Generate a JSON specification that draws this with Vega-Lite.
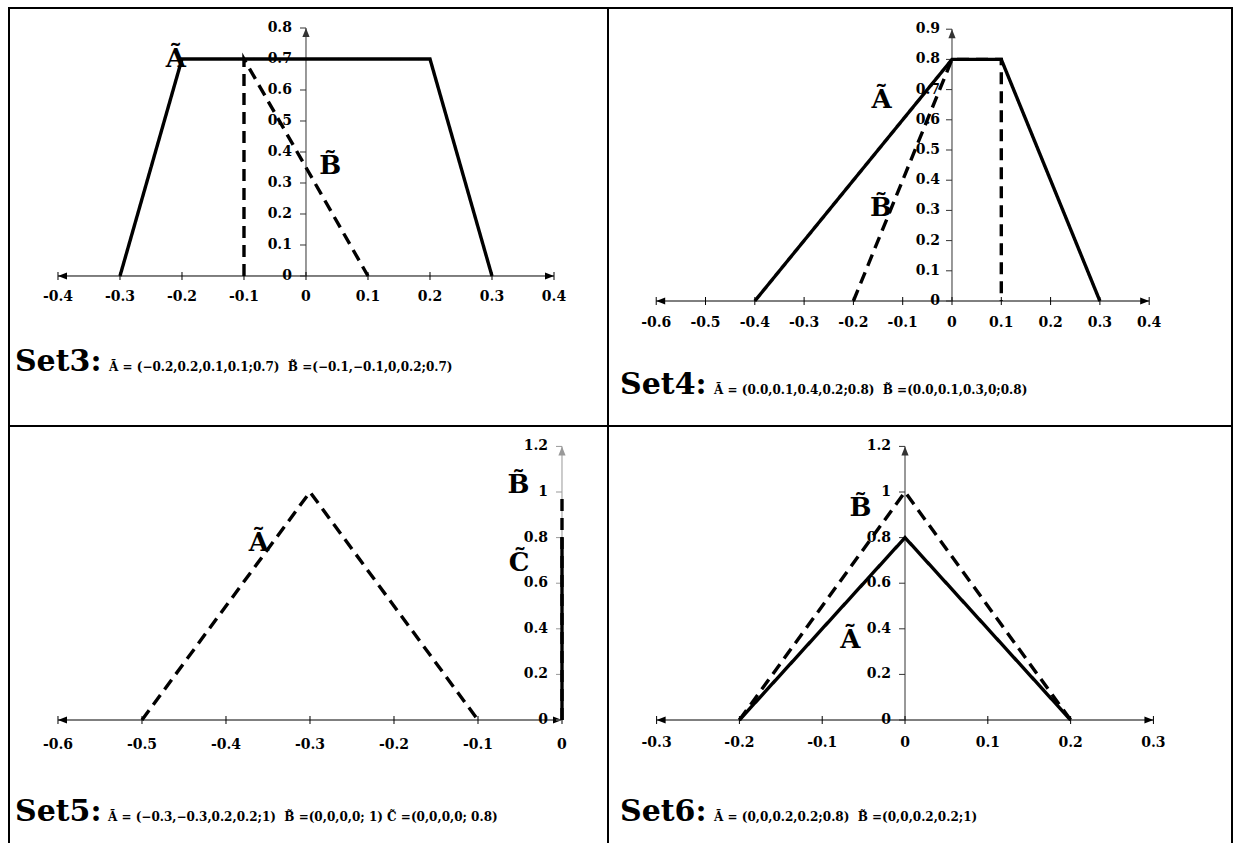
{
  "$schema": "https://vega.github.io/schema/vega-lite/v6.json",
  "background": "white",
  "padding": {"left": 8, "top": 7, "right": 0, "bottom": 0},
  "columns": 2,
  "spacing": 0,
  "bounds": "flush",
  "resolve": {"scale": {"x": "independent", "y": "independent", "shape": "independent", "strokeDash": "independent"}},
  "datasets": {
    "set3": [
      {"g": "ax", "axis": "x", "x": -0.4, "y": 0, "x2": 0.4, "y2": 0},
      {"g": "ax", "axis": "y", "x": 0, "y": 0, "x2": 0, "y2": 0.8},
      {"g": "ar", "axis": "x", "dir": "left", "x": -0.4, "y": 0},
      {"g": "ar", "axis": "x", "dir": "right", "x": 0.4, "y": 0},
      {"g": "ar", "axis": "y", "dir": "up", "x": 0, "y": 0.8},
      {"g": "xt", "x": -0.4, "y": 0, "t": "-0.4"},
      {"g": "xt", "x": -0.3, "y": 0, "t": "-0.3"},
      {"g": "xt", "x": -0.2, "y": 0, "t": "-0.2"},
      {"g": "xt", "x": -0.1, "y": 0, "t": "-0.1"},
      {"g": "xt", "x": 0, "y": 0, "t": "0"},
      {"g": "xt", "x": 0.1, "y": 0, "t": "0.1"},
      {"g": "xt", "x": 0.2, "y": 0, "t": "0.2"},
      {"g": "xt", "x": 0.3, "y": 0, "t": "0.3"},
      {"g": "xt", "x": 0.4, "y": 0, "t": "0.4"},
      {"g": "yt", "x": 0, "y": 0, "t": "0"},
      {"g": "yt", "x": 0, "y": 0.1, "t": "0.1"},
      {"g": "yt", "x": 0, "y": 0.2, "t": "0.2"},
      {"g": "yt", "x": 0, "y": 0.3, "t": "0.3"},
      {"g": "yt", "x": 0, "y": 0.4, "t": "0.4"},
      {"g": "yt", "x": 0, "y": 0.5, "t": "0.5"},
      {"g": "yt", "x": 0, "y": 0.6, "t": "0.6"},
      {"g": "yt", "x": 0, "y": 0.7, "t": "0.7"},
      {"g": "yt", "x": 0, "y": 0.8, "t": "0.8"},
      {"g": "s", "name": "A", "style": "solid", "ord": 1, "x": -0.3, "y": 0},
      {"g": "s", "name": "A", "style": "solid", "ord": 2, "x": -0.2, "y": 0.7},
      {"g": "s", "name": "A", "style": "solid", "ord": 3, "x": 0.2, "y": 0.7},
      {"g": "s", "name": "A", "style": "solid", "ord": 4, "x": 0.3, "y": 0},
      {"g": "s", "name": "B", "style": "dashed", "ord": 1, "x": -0.1, "y": 0},
      {"g": "s", "name": "B", "style": "dashed", "ord": 2, "x": -0.1, "y": 0.7},
      {"g": "s", "name": "B", "style": "dashed", "ord": 3, "x": 0.1, "y": 0},
      {"g": "nm", "t": "Ã", "x": -0.21, "y": 0.674},
      {"g": "nm", "t": "B\u0303", "x": 0.039, "y": 0.329},
      {"g": "cap", "t": "Set3:", "x": -0.4694, "y": -0.3065},
      {"g": "fm", "t": "Ã = (−0.2,0.2,0.1,0.1;0.7)\u00a0\u00a0B\u0303 =(−0.1,−0.1,0,0.2;0.7)", "x": -0.3177, "y": -0.3065}
    ],
    "set4": [
      {"g": "ax", "axis": "x", "x": -0.6, "y": 0, "x2": 0.4, "y2": 0},
      {"g": "ax", "axis": "y", "x": 0, "y": 0, "x2": 0, "y2": 0.9},
      {"g": "ar", "axis": "x", "dir": "left", "x": -0.6, "y": 0},
      {"g": "ar", "axis": "x", "dir": "right", "x": 0.4, "y": 0},
      {"g": "ar", "axis": "y", "dir": "up", "x": 0, "y": 0.9},
      {"g": "xt", "x": -0.6, "y": 0, "t": "-0.6"},
      {"g": "xt", "x": -0.5, "y": 0, "t": "-0.5"},
      {"g": "xt", "x": -0.4, "y": 0, "t": "-0.4"},
      {"g": "xt", "x": -0.3, "y": 0, "t": "-0.3"},
      {"g": "xt", "x": -0.2, "y": 0, "t": "-0.2"},
      {"g": "xt", "x": -0.1, "y": 0, "t": "-0.1"},
      {"g": "xt", "x": 0, "y": 0, "t": "0"},
      {"g": "xt", "x": 0.1, "y": 0, "t": "0.1"},
      {"g": "xt", "x": 0.2, "y": 0, "t": "0.2"},
      {"g": "xt", "x": 0.3, "y": 0, "t": "0.3"},
      {"g": "xt", "x": 0.4, "y": 0, "t": "0.4"},
      {"g": "yt", "x": 0, "y": 0, "t": "0"},
      {"g": "yt", "x": 0, "y": 0.1, "t": "0.1"},
      {"g": "yt", "x": 0, "y": 0.2, "t": "0.2"},
      {"g": "yt", "x": 0, "y": 0.3, "t": "0.3"},
      {"g": "yt", "x": 0, "y": 0.4, "t": "0.4"},
      {"g": "yt", "x": 0, "y": 0.5, "t": "0.5"},
      {"g": "yt", "x": 0, "y": 0.6, "t": "0.6"},
      {"g": "yt", "x": 0, "y": 0.7, "t": "0.7"},
      {"g": "yt", "x": 0, "y": 0.8, "t": "0.8"},
      {"g": "yt", "x": 0, "y": 0.9, "t": "0.9"},
      {"g": "s", "name": "A", "style": "solid", "ord": 1, "x": -0.4, "y": 0},
      {"g": "s", "name": "A", "style": "solid", "ord": 2, "x": 0, "y": 0.8},
      {"g": "s", "name": "A", "style": "solid", "ord": 3, "x": 0.1, "y": 0.8},
      {"g": "s", "name": "A", "style": "solid", "ord": 4, "x": 0.3, "y": 0},
      {"g": "s", "name": "B", "style": "dashed", "ord": 1, "x": -0.2, "y": 0},
      {"g": "s", "name": "B", "style": "dashed", "ord": 2, "x": 0, "y": 0.8},
      {"g": "s", "name": "B", "style": "dashed", "ord": 3, "x": 0.1, "y": 0.8},
      {"g": "s", "name": "B", "style": "dashed", "ord": 4, "x": 0.1, "y": 0},
      {"g": "nm", "t": "Ã", "x": -0.143, "y": 0.64},
      {"g": "nm", "t": "B\u0303", "x": -0.144, "y": 0.2815},
      {"g": "cap", "t": "Set4:", "x": -0.6734, "y": -0.308},
      {"g": "fm", "t": "Ã = (0.0,0.1,0.4,0.2;0.8)\u00a0\u00a0B\u0303 =(0.0,0.1,0.3,0;0.8)", "x": -0.4828, "y": -0.308}
    ],
    "set5": [
      {"g": "ax", "axis": "x", "x": -0.6, "y": 0, "x2": 0, "y2": 0},
      {"g": "ax", "axis": "y", "x": 0, "y": 0, "x2": 0, "y2": 1.2},
      {"g": "ar", "axis": "x", "dir": "left", "x": -0.6, "y": 0},
      {"g": "ar", "axis": "x", "dir": "right", "x": 0, "y": 0},
      {"g": "ar", "axis": "y", "dir": "up", "x": 0, "y": 1.2},
      {"g": "xt", "x": -0.6, "y": 0, "t": "-0.6"},
      {"g": "xt", "x": -0.5, "y": 0, "t": "-0.5"},
      {"g": "xt", "x": -0.4, "y": 0, "t": "-0.4"},
      {"g": "xt", "x": -0.3, "y": 0, "t": "-0.3"},
      {"g": "xt", "x": -0.2, "y": 0, "t": "-0.2"},
      {"g": "xt", "x": -0.1, "y": 0, "t": "-0.1"},
      {"g": "xt", "x": 0, "y": 0, "t": "0"},
      {"g": "yt", "x": 0, "y": 0, "t": "0"},
      {"g": "yt", "x": 0, "y": 0.2, "t": "0.2"},
      {"g": "yt", "x": 0, "y": 0.4, "t": "0.4"},
      {"g": "yt", "x": 0, "y": 0.6, "t": "0.6"},
      {"g": "yt", "x": 0, "y": 0.8, "t": "0.8"},
      {"g": "yt", "x": 0, "y": 1, "t": "1"},
      {"g": "yt", "x": 0, "y": 1.2, "t": "1.2"},
      {"g": "s", "name": "A", "style": "dashed", "ord": 1, "x": -0.5, "y": 0},
      {"g": "s", "name": "A", "style": "dashed", "ord": 2, "x": -0.3, "y": 1},
      {"g": "s", "name": "A", "style": "dashed", "ord": 3, "x": -0.1, "y": 0},
      {"g": "s", "name": "B", "style": "dashed", "ord": 1, "x": 0, "y": 0},
      {"g": "s", "name": "B", "style": "dashed", "ord": 2, "x": 0, "y": 1},
      {"g": "s", "name": "C", "style": "solid", "ord": 1, "x": 0, "y": 0},
      {"g": "s", "name": "C", "style": "solid", "ord": 2, "x": 0, "y": 0.8},
      {"g": "nm", "t": "Ã", "x": -0.361, "y": 0.741},
      {"g": "nm", "t": "B\u0303", "x": -0.0518, "y": 0.997},
      {"g": "nm", "t": "C\u0303", "x": -0.0512, "y": 0.6535},
      {"g": "cap", "t": "Set5:", "x": -0.6512, "y": -0.443},
      {"g": "fm", "t": "Ã = (−0.3,−0.3,0.2,0.2;1)\u00a0\u00a0B\u0303 =(0,0,0,0; 1) C\u0303 =(0,0,0,0; 0.8)", "x": -0.5405, "y": -0.443}
    ],
    "set6": [
      {"g": "ax", "axis": "x", "x": -0.3, "y": 0, "x2": 0.3, "y2": 0},
      {"g": "ax", "axis": "y", "x": 0, "y": 0, "x2": 0, "y2": 1.2},
      {"g": "ar", "axis": "x", "dir": "left", "x": -0.3, "y": 0},
      {"g": "ar", "axis": "x", "dir": "right", "x": 0.3, "y": 0},
      {"g": "ar", "axis": "y", "dir": "up", "x": 0, "y": 1.2},
      {"g": "xt", "x": -0.3, "y": 0, "t": "-0.3"},
      {"g": "xt", "x": -0.2, "y": 0, "t": "-0.2"},
      {"g": "xt", "x": -0.1, "y": 0, "t": "-0.1"},
      {"g": "xt", "x": 0, "y": 0, "t": "0"},
      {"g": "xt", "x": 0.1, "y": 0, "t": "0.1"},
      {"g": "xt", "x": 0.2, "y": 0, "t": "0.2"},
      {"g": "xt", "x": 0.3, "y": 0, "t": "0.3"},
      {"g": "yt", "x": 0, "y": 0, "t": "0"},
      {"g": "yt", "x": 0, "y": 0.2, "t": "0.2"},
      {"g": "yt", "x": 0, "y": 0.4, "t": "0.4"},
      {"g": "yt", "x": 0, "y": 0.6, "t": "0.6"},
      {"g": "yt", "x": 0, "y": 0.8, "t": "0.8"},
      {"g": "yt", "x": 0, "y": 1, "t": "1"},
      {"g": "yt", "x": 0, "y": 1.2, "t": "1.2"},
      {"g": "s", "name": "A", "style": "solid", "ord": 1, "x": -0.2, "y": 0},
      {"g": "s", "name": "A", "style": "solid", "ord": 2, "x": 0, "y": 0.8},
      {"g": "s", "name": "A", "style": "solid", "ord": 3, "x": 0.2, "y": 0},
      {"g": "s", "name": "B", "style": "dashed", "ord": 1, "x": -0.2, "y": 0},
      {"g": "s", "name": "B", "style": "dashed", "ord": 2, "x": 0, "y": 1},
      {"g": "s", "name": "B", "style": "dashed", "ord": 3, "x": 0.2, "y": 0},
      {"g": "nm", "t": "B\u0303", "x": -0.0537, "y": 0.895},
      {"g": "nm", "t": "Ã", "x": -0.0659, "y": 0.317},
      {"g": "cap", "t": "Set6:", "x": -0.3442, "y": -0.443},
      {"g": "fm", "t": "Ã = (0,0,0.2,0.2;0.8)\u00a0\u00a0B\u0303 =(0,0,0.2,0.2;1)", "x": -0.2307, "y": -0.443}
    ]
  },
  "concat": [
    {
      "width": 599, "height": 418,
      "data": {"name": "set3"},
      "encoding": {
        "x": {"field": "x", "type": "quantitative", "scale": {"domain": [-0.479, 0.4871], "nice": false, "zero": false}, "axis": null},
        "y": {"field": "y", "type": "quantitative", "scale": {"domain": [-0.4839, 0.8645], "nice": false, "zero": false}, "axis": null}
      },
      "layer": [
        {"transform": [{"filter": "datum.g === 'ax'"}], "mark": {"type": "rule", "strokeWidth": 1}, "encoding": {"x2": {"field": "x2"}, "y2": {"field": "y2"}, "color": {"condition": {"test": "datum.axis === 'y'", "value": "#333333"}, "value": "black"}}},
        {"transform": [{"filter": "datum.g === 'ar'"}], "mark": {"type": "point", "filled": true, "size": 81, "opacity": 1}, "encoding": {"shape": {"field": "dir", "scale": {"domain": ["left", "right", "up"], "range": ["M0,0L2,-0.8L2,0.8Z", "M0,0L-2,-0.8L-2,0.8Z", "M0,0L-0.8,2L0.8,2Z"]}, "legend": null}, "color": {"condition": {"test": "datum.axis === 'y'", "value": "#333333"}, "value": "black"}}},
        {"transform": [{"filter": "datum.g === 'xt'"}], "mark": {"type": "tick", "orient": "vertical", "size": 8, "thickness": 1, "color": "black", "opacity": 1}},
        {"transform": [{"filter": "datum.g === 'yt'"}], "mark": {"type": "tick", "orient": "horizontal", "size": 6, "thickness": 1, "xOffset": -3, "color": "#333333", "opacity": 1}},
        {"transform": [{"filter": "datum.g === 'xt'"}], "mark": {"type": "text", "dy": 21, "fontSize": 14, "baseline": "middle"}, "encoding": {"text": {"field": "t"}}},
        {"transform": [{"filter": "datum.g === 'yt'"}], "mark": {"type": "text", "align": "right", "dx": -14, "fontSize": 14, "baseline": "middle"}, "encoding": {"text": {"field": "t"}}},
        {"transform": [{"filter": "datum.g === 's'"}], "mark": {"type": "line", "strokeWidth": 3.4, "color": "black"}, "encoding": {"detail": {"field": "name"}, "order": {"field": "ord", "type": "quantitative"}, "strokeDash": {"field": "style", "scale": {"domain": ["solid", "dashed"], "range": [[1, 0], [12, 7]]}, "legend": null}}},
        {"transform": [{"filter": "datum.g === 'nm'"}], "mark": {"type": "text", "fontSize": 26, "baseline": "alphabetic"}, "encoding": {"text": {"field": "t"}}},
        {"transform": [{"filter": "datum.g === 'cap'"}], "mark": {"type": "text", "fontSize": 30, "align": "left", "baseline": "alphabetic"}, "encoding": {"text": {"field": "t"}}},
        {"transform": [{"filter": "datum.g === 'fm'"}], "mark": {"type": "text", "fontSize": 12, "align": "left", "baseline": "alphabetic"}, "encoding": {"text": {"field": "t"}}}
      ]
    },
    {
      "width": 624, "height": 418,
      "data": {"name": "set4"},
      "encoding": {
        "x": {"field": "x", "type": "quantitative", "scale": {"domain": [-0.6978, 0.568], "nice": false, "zero": false}, "axis": null},
        "y": {"field": "y", "type": "quantitative", "scale": {"domain": [-0.4139, 0.9702], "nice": false, "zero": false}, "axis": null}
      },
      "layer": [
        {"transform": [{"filter": "datum.g === 'ax'"}], "mark": {"type": "rule", "strokeWidth": 1}, "encoding": {"x2": {"field": "x2"}, "y2": {"field": "y2"}, "color": {"condition": {"test": "datum.axis === 'y'", "value": "#333333"}, "value": "black"}}},
        {"transform": [{"filter": "datum.g === 'ar'"}], "mark": {"type": "point", "filled": true, "size": 81, "opacity": 1}, "encoding": {"shape": {"field": "dir", "scale": {"domain": ["left", "right", "up"], "range": ["M0,0L2,-0.8L2,0.8Z", "M0,0L-2,-0.8L-2,0.8Z", "M0,0L-0.8,2L0.8,2Z"]}, "legend": null}, "color": {"condition": {"test": "datum.axis === 'y'", "value": "#333333"}, "value": "black"}}},
        {"transform": [{"filter": "datum.g === 'xt'"}], "mark": {"type": "tick", "orient": "vertical", "size": 8, "thickness": 1, "color": "black", "opacity": 1}},
        {"transform": [{"filter": "datum.g === 'yt'"}], "mark": {"type": "tick", "orient": "horizontal", "size": 6, "thickness": 1, "xOffset": -3, "color": "#333333", "opacity": 1}},
        {"transform": [{"filter": "datum.g === 'xt'"}], "mark": {"type": "text", "dy": 22, "fontSize": 14, "baseline": "middle"}, "encoding": {"text": {"field": "t"}}},
        {"transform": [{"filter": "datum.g === 'yt'"}], "mark": {"type": "text", "align": "right", "dx": -12, "fontSize": 14, "baseline": "middle"}, "encoding": {"text": {"field": "t"}}},
        {"transform": [{"filter": "datum.g === 's'"}], "mark": {"type": "line", "strokeWidth": 3.4, "color": "black"}, "encoding": {"detail": {"field": "name"}, "order": {"field": "ord", "type": "quantitative"}, "strokeDash": {"field": "style", "scale": {"domain": ["solid", "dashed"], "range": [[1, 0], [12, 7]]}, "legend": null}}},
        {"transform": [{"filter": "datum.g === 'nm'"}], "mark": {"type": "text", "fontSize": 26, "baseline": "alphabetic"}, "encoding": {"text": {"field": "t"}}},
        {"transform": [{"filter": "datum.g === 'cap'"}], "mark": {"type": "text", "fontSize": 30, "align": "left", "baseline": "alphabetic"}, "encoding": {"text": {"field": "t"}}},
        {"transform": [{"filter": "datum.g === 'fm'"}], "mark": {"type": "text", "fontSize": 12, "align": "left", "baseline": "alphabetic"}, "encoding": {"text": {"field": "t"}}}
      ]
    },
    {
      "width": 599, "height": 421,
      "data": {"name": "set5"},
      "encoding": {
        "x": {"field": "x", "type": "quantitative", "scale": {"domain": [-0.6583, 0.05476], "nice": false, "zero": false}, "axis": null},
        "y": {"field": "y", "type": "quantitative", "scale": {"domain": [-0.557, 1.2895], "nice": false, "zero": false}, "axis": null}
      },
      "layer": [
        {"transform": [{"filter": "datum.g === 'ax'"}], "mark": {"type": "rule", "strokeWidth": 1}, "encoding": {"x2": {"field": "x2"}, "y2": {"field": "y2"}, "color": {"condition": {"test": "datum.axis === 'y'", "value": "#999999"}, "value": "black"}}},
        {"transform": [{"filter": "datum.g === 'ar'"}], "mark": {"type": "point", "filled": true, "size": 81, "opacity": 1}, "encoding": {"shape": {"field": "dir", "scale": {"domain": ["left", "right", "up"], "range": ["M0,0L2,-0.8L2,0.8Z", "M0,0L-2,-0.8L-2,0.8Z", "M0,0L-0.8,2L0.8,2Z"]}, "legend": null}, "color": {"condition": {"test": "datum.axis === 'y'", "value": "#999999"}, "value": "black"}}},
        {"transform": [{"filter": "datum.g === 'xt'"}], "mark": {"type": "tick", "orient": "vertical", "size": 8, "thickness": 1, "color": "black", "opacity": 1}},
        {"transform": [{"filter": "datum.g === 'yt'"}], "mark": {"type": "tick", "orient": "horizontal", "size": 6, "thickness": 1, "xOffset": -3, "color": "#999999", "opacity": 1}},
        {"transform": [{"filter": "datum.g === 'xt'"}], "mark": {"type": "text", "dy": 25, "fontSize": 14, "baseline": "middle"}, "encoding": {"text": {"field": "t"}}},
        {"transform": [{"filter": "datum.g === 'yt'"}], "mark": {"type": "text", "align": "right", "dx": -14, "fontSize": 14, "baseline": "middle"}, "encoding": {"text": {"field": "t"}}},
        {"transform": [{"filter": "datum.g === 's'"}], "mark": {"type": "line", "strokeWidth": 3.4, "color": "black"}, "encoding": {"detail": {"field": "name"}, "order": {"field": "ord", "type": "quantitative"}, "strokeDash": {"field": "style", "scale": {"domain": ["solid", "dashed"], "range": [[1, 0], [12, 7]]}, "legend": null}}},
        {"transform": [{"filter": "datum.g === 'nm'"}], "mark": {"type": "text", "fontSize": 26, "baseline": "alphabetic"}, "encoding": {"text": {"field": "t"}}},
        {"transform": [{"filter": "datum.g === 'cap'"}], "mark": {"type": "text", "fontSize": 30, "align": "left", "baseline": "alphabetic"}, "encoding": {"text": {"field": "t"}}},
        {"transform": [{"filter": "datum.g === 'fm'"}], "mark": {"type": "text", "fontSize": 12, "align": "left", "baseline": "alphabetic"}, "encoding": {"text": {"field": "t"}}}
      ]
    },
    {
      "width": 624, "height": 421,
      "data": {"name": "set6"},
      "encoding": {
        "x": {"field": "x", "type": "quantitative", "scale": {"domain": [-0.3587, 0.3949], "nice": false, "zero": false}, "axis": null},
        "y": {"field": "y", "type": "quantitative", "scale": {"domain": [-0.557, 1.2895], "nice": false, "zero": false}, "axis": null}
      },
      "layer": [
        {"transform": [{"filter": "datum.g === 'ax'"}], "mark": {"type": "rule", "strokeWidth": 1}, "encoding": {"x2": {"field": "x2"}, "y2": {"field": "y2"}, "color": {"condition": {"test": "datum.axis === 'y'", "value": "#333333"}, "value": "black"}}},
        {"transform": [{"filter": "datum.g === 'ar'"}], "mark": {"type": "point", "filled": true, "size": 81, "opacity": 1}, "encoding": {"shape": {"field": "dir", "scale": {"domain": ["left", "right", "up"], "range": ["M0,0L2,-0.8L2,0.8Z", "M0,0L-2,-0.8L-2,0.8Z", "M0,0L-0.8,2L0.8,2Z"]}, "legend": null}, "color": {"condition": {"test": "datum.axis === 'y'", "value": "#333333"}, "value": "black"}}},
        {"transform": [{"filter": "datum.g === 'xt'"}], "mark": {"type": "tick", "orient": "vertical", "size": 8, "thickness": 1, "color": "black", "opacity": 1}},
        {"transform": [{"filter": "datum.g === 'yt'"}], "mark": {"type": "tick", "orient": "horizontal", "size": 6, "thickness": 1, "xOffset": -3, "color": "#333333", "opacity": 1}},
        {"transform": [{"filter": "datum.g === 'xt'"}], "mark": {"type": "text", "dy": 23, "fontSize": 14, "baseline": "middle"}, "encoding": {"text": {"field": "t"}}},
        {"transform": [{"filter": "datum.g === 'yt'"}], "mark": {"type": "text", "align": "right", "dx": -14, "fontSize": 14, "baseline": "middle"}, "encoding": {"text": {"field": "t"}}},
        {"transform": [{"filter": "datum.g === 's'"}], "mark": {"type": "line", "strokeWidth": 3.4, "color": "black"}, "encoding": {"detail": {"field": "name"}, "order": {"field": "ord", "type": "quantitative"}, "strokeDash": {"field": "style", "scale": {"domain": ["solid", "dashed"], "range": [[1, 0], [12, 7]]}, "legend": null}}},
        {"transform": [{"filter": "datum.g === 'nm'"}], "mark": {"type": "text", "fontSize": 26, "baseline": "alphabetic"}, "encoding": {"text": {"field": "t"}}},
        {"transform": [{"filter": "datum.g === 'cap'"}], "mark": {"type": "text", "fontSize": 30, "align": "left", "baseline": "alphabetic"}, "encoding": {"text": {"field": "t"}}},
        {"transform": [{"filter": "datum.g === 'fm'"}], "mark": {"type": "text", "fontSize": 12, "align": "left", "baseline": "alphabetic"}, "encoding": {"text": {"field": "t"}}}
      ]
    }
  ],
  "config": {
    "view": {"stroke": "black", "strokeWidth": 2},
    "text": {"font": "DejaVu Serif", "fontWeight": "bold", "color": "black"}
  }
}
